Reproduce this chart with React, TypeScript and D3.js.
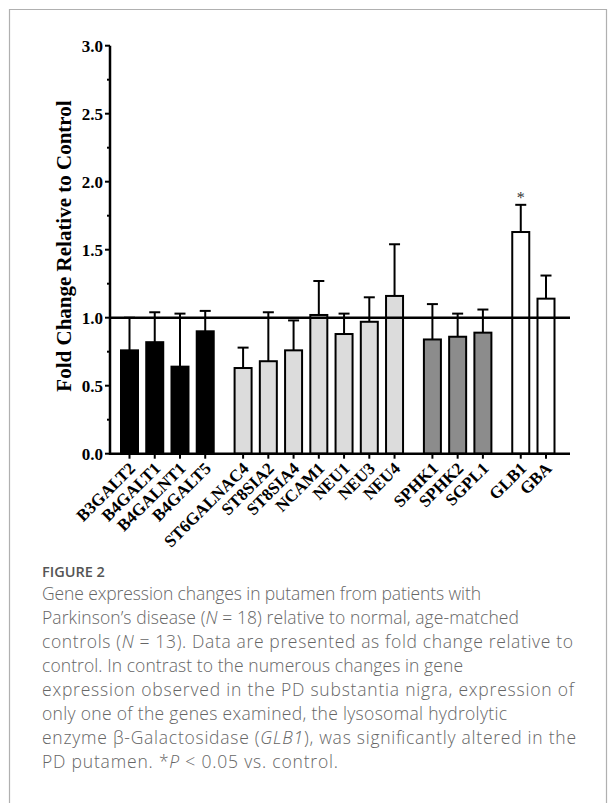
import * as d3 from "d3";
import { useEffect, useRef } from "react";

const GENES = [
  "B3GALT2", "B4GALT1", "B4GALNT1", "B4GALT5",
  "ST6GALNAC4", "ST8SIA2", "ST8SIA4", "NCAM1", "NEU1", "NEU3", "NEU4",
  "SPHK1", "SPHK2", "SGPL1",
  "GLB1", "GBA",
];
const GROUP = [0, 0, 0, 0, 1, 1, 1, 1, 1, 1, 1, 2, 2, 2, 3, 3];
const MEANS = [0.76, 0.82, 0.64, 0.9, 0.63, 0.68, 0.76, 1.02, 0.88, 0.97, 1.16, 0.84, 0.86, 0.89, 1.63, 1.14];
const SEM = [0.24, 0.22, 0.39, 0.15, 0.15, 0.36, 0.22, 0.25, 0.15, 0.18, 0.38, 0.26, 0.17, 0.17, 0.2, 0.17];
const SIGNIFICANT = ["GLB1"];
const GROUP_FILL = ["#000000", "#dcdcdc", "#8c8c8c", "#ffffff"];
const Y_TICKS = [0, 0.5, 1, 1.5, 2, 2.5, 3];
const Y_MINOR = [0.25, 0.75, 1.25, 1.75, 2.25, 2.75];

const CAPTION = [
  [{ t: "Gene expression changes in putamen from patients with" }],
  [{ t: "Parkinson’s disease (" }, { t: "N", i: true }, { t: " = 18) relative to normal, age-matched" }],
  [{ t: "controls (" }, { t: "N", i: true }, { t: " = 13). Data are presented as fold change relative to" }],
  [{ t: "control. In contrast to the numerous changes in gene" }],
  [{ t: "expression observed in the PD substantia nigra, expression of" }],
  [{ t: "only one of the genes examined, the lysosomal hydrolytic" }],
  [{ t: "enzyme β-Galactosidase (" }, { t: "GLB1", i: true }, { t: "), was significantly altered in the" }],
  [{ t: "PD putamen. *" }, { t: "P", i: true }, { t: " < 0.05 vs. control." }],
];
// line widths as set in the source layout
const CAPTION_WIDTH = [439, 477, 531, 421, 532, 465, 534, 296];

const SERIF = "'Liberation Serif', 'Times New Roman', serif";
const SANS = "'Open Sans', 'Noto Sans', sans-serif";

export default function App() {
  const svgRef = useRef<SVGSVGElement>(null);

  useEffect(() => {
    const svg = d3.select(svgRef.current);
    svg.selectAll("*").remove();

    // card border (top, left, right)
    svg.append("path")
      .attr("d", "M9.5,803 V9.5 H606.5 V803")
      .attr("fill", "none")
      .attr("stroke", "#b0b0b0")
      .attr("stroke-width", 1.2);

    const y = d3.scaleLinear().domain([0, 3]).range([453.7, 45.7]);
    // slot position: gene index plus half a slot gap between groups
    const slot = GENES.map((_, i) => i + GROUP[i] * 0.5);
    const x = d3.scaleLinear().domain([0, 16.5]).range([129.5, 546]);
    const axisX0 = 110;
    const axisX1 = 570;
    const barW = 17;

    const g = svg.append("g");

    // bars
    GENES.forEach((gene, i) => {
      const cx = x(slot[i]);
      const top = y(MEANS[i]);
      const capY = y(MEANS[i] + SEM[i]);
      g.append("line")
        .attr("x1", cx).attr("x2", cx)
        .attr("y1", top).attr("y2", capY)
        .attr("stroke", "#000").attr("stroke-width", 2);
      g.append("line")
        .attr("x1", cx - 5.5).attr("x2", cx + 5.5)
        .attr("y1", capY).attr("y2", capY)
        .attr("stroke", "#000").attr("stroke-width", 2);
      g.append("rect")
        .attr("x", cx - barW / 2)
        .attr("y", top)
        .attr("width", barW)
        .attr("height", y(0) - top)
        .attr("fill", GROUP_FILL[GROUP[i]])
        .attr("stroke", "#000")
        .attr("stroke-width", 2);
      if (SIGNIFICANT.includes(gene)) {
        g.append("text")
          .attr("x", cx)
          .attr("y", capY - 2)
          .attr("text-anchor", "middle")
          .attr("font-family", SERIF)
          .attr("font-size", 16)
          .attr("fill", "#333")
          .text("*");
      }
      // x tick + label
      g.append("line")
        .attr("x1", cx).attr("x2", cx)
        .attr("y1", y(0)).attr("y2", y(0) + 5)
        .attr("stroke", "#000").attr("stroke-width", 2);
      g.append("text")
        .attr("transform", `translate(${cx + 4},${y(0) + 13}) rotate(-45)`)
        .attr("text-anchor", "end")
        .attr("dominant-baseline", "middle")
        .attr("font-family", SERIF)
        .attr("font-weight", "bold")
        .attr("font-size", 17)
        .attr("fill", "#000")
        .text(gene);
    });

    // reference line at 1.0
    g.append("line")
      .attr("x1", axisX0).attr("x2", axisX1)
      .attr("y1", y(1)).attr("y2", y(1))
      .attr("stroke", "#000").attr("stroke-width", 2.5);

    // axes
    g.append("line")
      .attr("x1", axisX0).attr("x2", axisX0)
      .attr("y1", y(0) + 1.25).attr("y2", y(3))
      .attr("stroke", "#000").attr("stroke-width", 2.5);
    g.append("line")
      .attr("x1", axisX0).attr("x2", axisX1)
      .attr("y1", y(0)).attr("y2", y(0))
      .attr("stroke", "#000").attr("stroke-width", 2.5);

    Y_TICKS.forEach((t) => {
      g.append("line")
        .attr("x1", axisX0 - 5).attr("x2", axisX0)
        .attr("y1", y(t)).attr("y2", y(t))
        .attr("stroke", "#000").attr("stroke-width", 2);
      g.append("text")
        .attr("x", axisX0 - 7)
        .attr("y", y(t))
        .attr("dy", "0.35em")
        .attr("text-anchor", "end")
        .attr("font-family", SERIF)
        .attr("font-weight", "bold")
        .attr("font-size", 17)
        .attr("fill", "#000")
        .text(d3.format(".1f")(t));
    });
    Y_MINOR.forEach((t) => {
      g.append("line")
        .attr("x1", axisX0 - 3).attr("x2", axisX0)
        .attr("y1", y(t)).attr("y2", y(t))
        .attr("stroke", "#000").attr("stroke-width", 2);
    });

    g.append("text")
      .attr("transform", `translate(71,246) rotate(-90)`)
      .attr("text-anchor", "middle")
      .attr("font-family", SERIF)
      .attr("font-weight", "bold")
      .attr("font-size", 21)
      .attr("fill", "#000")
      .text("Fold Change Relative to Control");

    // caption
    svg.append("text")
      .attr("x", 42)
      .attr("y", 577)
      .attr("font-family", SANS)
      .attr("font-weight", 600)
      .attr("font-size", 14.5)
      .attr("fill", "#555")
      .text("FIGURE 2");

    CAPTION.forEach((line, k) => {
      const t = svg.append("text")
        .attr("x", 42)
        .attr("y", 600 + k * 24)
        .attr("font-family", SANS)
        .attr("font-weight", 300)
        .attr("font-size", 17.5)
        .attr("fill", "#666")
        .attr("textLength", CAPTION_WIDTH[k])
        .attr("lengthAdjust", "spacing");
      line.forEach((seg) => {
        t.append("tspan")
          .attr("font-style", seg.i ? "italic" : "normal")
          .text(seg.t);
      });
    });
  }, []);

  return (
    <svg
      ref={svgRef}
      width={616}
      height={803}
      style={{ position: "absolute", left: 0, top: 0, display: "block", background: "#fff" }}
    />
  );
}
